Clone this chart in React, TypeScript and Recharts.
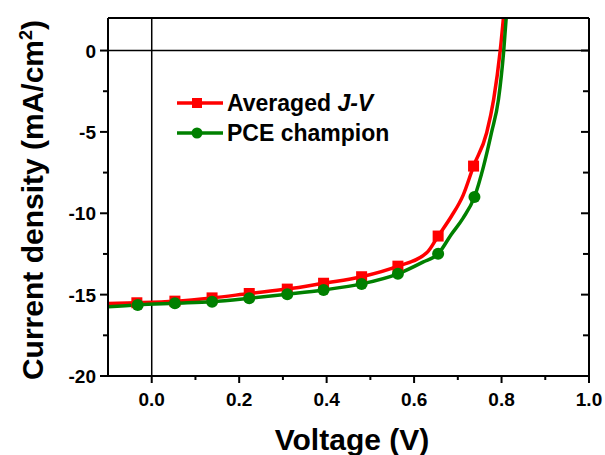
import {
  ComposedChart,
  Line,
  Scatter,
  XAxis,
  YAxis,
  ReferenceLine,
  Legend,
  Label,
} from "recharts";

// voltage (V) / current density (mA/cm2)
const avgV = [-0.1, -0.034, 0.053, 0.138, 0.223, 0.31, 0.393, 0.48, 0.563, 0.63, 0.655, 0.685, 0.712, 0.736, 0.766, 0.782, 0.797, 0.806];
const avgJ = [-15.55, -15.5, -15.4, -15.2, -14.93, -14.66, -14.3, -13.9, -13.25, -12.4, -11.4, -10.2, -8.9, -7.1, -5.05, -3.0, 0, 2.5];
const avgMarks = [-0.034, 0.053, 0.138, 0.223, 0.31, 0.393, 0.48, 0.563, 0.655, 0.736];

const champV = [-0.1, -0.032, 0.053, 0.138, 0.223, 0.31, 0.393, 0.48, 0.563, 0.62, 0.655, 0.685, 0.712, 0.738, 0.759, 0.777, 0.793, 0.805, 0.812];
const champJ = [-15.75, -15.63, -15.53, -15.43, -15.22, -14.97, -14.71, -14.34, -13.72, -13.0, -12.49, -11.3, -10.3, -9.0, -7.1, -5.05, -3.0, 0, 2.5];
const champMarks = [-0.032, 0.053, 0.138, 0.223, 0.31, 0.393, 0.48, 0.563, 0.655, 0.738];

const xMajor = [0, 0.2, 0.4, 0.6, 0.8, 1.0];
const xMinor = [0.1, 0.3, 0.5, 0.7, 0.9];
const yMajor = [-20, -15, -10, -5, 0];
const yMinor = [-17.5, -12.5, -7.5, -2.5];

const RED = "#ff0000";
const GREEN = "#008000";
const FONT = "'Liberation Sans', Arial, sans-serif";

const toPts = (v: number[], j: number[]) => v.map((x, i) => ({ v: x, j: j[i] }));
const avgData = toPts(avgV, avgJ);
const champData = toPts(champV, champJ);
const avgDots = avgData.filter((p) => avgMarks.includes(p.v));
const champDots = champData.filter((p) => champMarks.includes(p.v));

const xTicks = [...xMajor, ...xMinor].sort((a, b) => a - b);
const yTicks = [...yMajor, ...yMinor].sort((a, b) => a - b);

const BottomTick = ({ x, y, payload }: any) => {
  const major = xMajor.includes(payload.value);
  return (
    <g>
      <line x1={x} x2={x} y1={y} y2={y + (major ? 7 : 4)} stroke="#000" strokeWidth={2} />
      {major && (
        <text x={x} y={y + 30} textAnchor="middle" fontFamily={FONT} fontWeight="bold" fontSize={19} fill="#000">
          {payload.value.toFixed(1)}
        </text>
      )}
    </g>
  );
};

const LeftTick = ({ x, y, payload }: any) => {
  const major = yMajor.includes(payload.value);
  return (
    <g>
      <line x1={x - (major ? 8 : 5)} x2={x} y1={y} y2={y} stroke="#000" strokeWidth={2} />
      {major && (
        <text x={x - 12} y={y + 7} textAnchor="end" fontFamily={FONT} fontWeight="bold" fontSize={19} fill="#000">
          {payload.value}
        </text>
      )}
    </g>
  );
};

const TopTick = ({ x, y, payload }: any) => {
  const major = xMajor.includes(payload.value);
  return <line x1={x} x2={x} y1={y} y2={y + (major ? 7 : 5)} stroke="#000" strokeWidth={2} />;
};

const RightTick = ({ x, y, payload }: any) => {
  const major = yMajor.includes(payload.value);
  return <line x1={x - (major ? 8 : 6)} x2={x} y1={y} y2={y} stroke="#000" strokeWidth={2} />;
};

const Square = ({ cx, cy }: any) => <rect x={cx - 5.5} y={cy - 5.5} width={11} height={11} fill={RED} />;
const Dot = ({ cx, cy }: any) => <circle cx={cx} cy={cy} r={6} fill={GREEN} />;

const LegendBox = () => (
  <div style={{ fontFamily: FONT, fontWeight: "bold", fontSize: 23, color: "#000", lineHeight: "30px" }}>
    <div style={{ display: "flex", alignItems: "center", height: 30 }}>
      <svg width={48} height={14}>
        <line x1={0} x2={46} y1={7} y2={7} stroke={RED} strokeWidth={3.5} />
        <rect x={15} y={2} width={10} height={10} fill={RED} />
      </svg>
      <span style={{ marginLeft: 2 }}>
        Averaged <i>J-V</i>
      </span>
    </div>
    <div style={{ display: "flex", alignItems: "center", height: 30 }}>
      <svg width={48} height={14}>
        <line x1={0} x2={46} y1={7} y2={7} stroke={GREEN} strokeWidth={3.5} />
        <circle cx={20} cy={7} r={5.5} fill={GREEN} />
      </svg>
      <span style={{ marginLeft: 2 }}>PCE champion</span>
    </div>
  </div>
);

const YTitle = () => (
  <text
    x={43}
    y={200}
    transform="rotate(-90, 43, 200)"
    textAnchor="middle"
    fontFamily={FONT}
    fontWeight="bold"
    fontSize={30}
    fill="#000"
  >
    Current density (mA/cm
    <tspan dy={-11} fontSize={18}>2</tspan>
    <tspan dy={11}>)</tspan>
  </text>
);

const XTitle = () => (
  <text x={352} y={450} textAnchor="middle" fontFamily={FONT} fontWeight="bold" fontSize={30} fill="#000">
    Voltage (V)
  </text>
);

export default function App() {
  return (
    <div style={{ position: "absolute", left: 0, top: 0, background: "#fff" }}>
      <ComposedChart width={605} height={455} margin={{ top: 0, right: 0, bottom: 0, left: 0 }}>
        <XAxis
          xAxisId="b"
          dataKey="v"
          type="number"
          domain={[-0.1, 1.0]}
          allowDataOverflow
          ticks={xTicks}
          interval={0}
          height={79}
          tickSize={0}
          tickMargin={0}
          tickLine={false}
          tick={BottomTick}
          axisLine={{ stroke: "#000", strokeWidth: 2 }}
        >
          <Label content={XTitle} />
        </XAxis>
        <XAxis
          xAxisId="t"
          orientation="top"
          type="number"
          domain={[-0.1, 1.0]}
          allowDataOverflow
          ticks={xTicks}
          interval={0}
          height={18}
          tickSize={0}
          tickMargin={0}
          tickLine={false}
          tick={TopTick}
          axisLine={{ stroke: "#000", strokeWidth: 2 }}
        />
        <YAxis
          yAxisId="l"
          type="number"
          domain={[-20, 2]}
          allowDataOverflow
          ticks={yTicks}
          interval={0}
          width={108}
          tickSize={0}
          tickMargin={0}
          tickLine={false}
          tick={LeftTick}
          axisLine={{ stroke: "#000", strokeWidth: 2 }}
        >
          <Label content={YTitle} />
        </YAxis>
        <YAxis
          yAxisId="r"
          orientation="right"
          type="number"
          domain={[-20, 2]}
          allowDataOverflow
          ticks={yTicks}
          interval={0}
          width={16}
          tickSize={0}
          tickMargin={0}
          tickLine={false}
          tick={RightTick}
          axisLine={{ stroke: "#000", strokeWidth: 2 }}
        />
        <ReferenceLine xAxisId="b" yAxisId="l" x={0} stroke="#000" strokeWidth={1.5} />
        <ReferenceLine xAxisId="b" yAxisId="l" y={0} stroke="#000" strokeWidth={1.5} />
        <Line
          xAxisId="b"
          yAxisId="l"
          data={avgData}
          dataKey="j"
          type="monotone"
          stroke={RED}
          strokeWidth={3.5}
          dot={false}
          isAnimationActive={false}
          name="Averaged J-V"
        />
        <Scatter
          xAxisId="b"
          yAxisId="l"
          data={avgDots}
          dataKey="j"
          shape={Square}
          legendType="none"
          isAnimationActive={false}
        />
        <Line
          xAxisId="b"
          yAxisId="l"
          data={champData}
          dataKey="j"
          type="monotone"
          stroke={GREEN}
          strokeWidth={3.5}
          dot={false}
          isAnimationActive={false}
          name="PCE champion"
        />
        <Scatter
          xAxisId="b"
          yAxisId="l"
          data={champDots}
          dataKey="j"
          shape={Dot}
          legendType="none"
          isAnimationActive={false}
        />
        <Legend
          layout="vertical"
          align="center"
          verticalAlign="middle"
          content={LegendBox}
          wrapperStyle={{ position: "absolute", left: 177, top: 88, width: "auto", bottom: "auto" }}
        />
      </ComposedChart>
    </div>
  );
}
